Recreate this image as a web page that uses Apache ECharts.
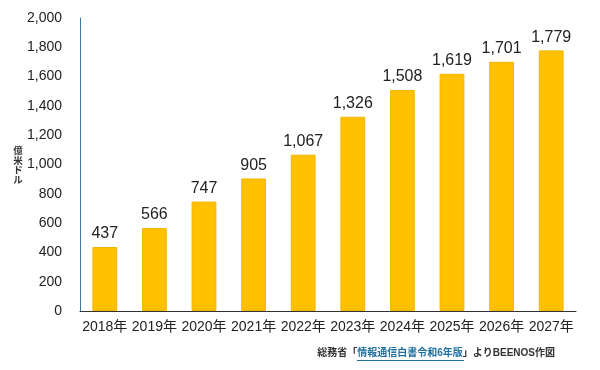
<!DOCTYPE html>
<html><head><meta charset="utf-8">
<script src="https://cdn.jsdelivr.net/npm/echarts@6/dist/echarts.min.js"></script>
<style>html,body{margin:0;padding:0;background:#fff}#c{width:600px;height:370px}</style>
</head><body><div id="c"></div>
<script>
const categories = ['2018年','2019年','2020年','2021年','2022年','2023年','2024年','2025年','2026年','2027年'];
const values = [437, 566, 747, 905, 1067, 1326, 1508, 1619, 1701, 1779];
const yTicks = [0, 200, 400, 600, 800, 1000, 1200, 1400, 1600, 1800, 2000];
const unitLabel = '億米ドル';
const sourceText = ['総務省「', '情報通信白書令和6年版', '」よりBEENOS作図'];

const fmt = v => Number(v).toLocaleString('en-US');
const chart = echarts.init(document.getElementById('c'), null, {renderer:'canvas'});
const FONT = '"Liberation Sans", Arial, "Noto Sans CJK JP", sans-serif';
chart.setOption({
  animation: false,
  backgroundColor: '#fff',
  grid: {left: 80, right: 24, top: 18, bottom: 59},
  xAxis: {
    type: 'category', data: categories,
    axisLine: {lineStyle: {color: '#333', width: 1}},
    axisTick: {show: false},
    axisLabel: {color: '#222', fontSize: 14, fontFamily: FONT, margin: 9, interval: 0}
  },
  yAxis: {
    type: 'value', min: yTicks[0], max: yTicks[yTicks.length-1], interval: yTicks[1]-yTicks[0],
    axisLine: {show: true, lineStyle: {color: '#3a7ca5', width: 1}},
    axisTick: {show: false},
    splitLine: {show: false},
    axisLabel: {color: '#222', fontSize: 14, fontFamily: FONT, margin: 18, formatter: fmt}
  },
  series: [{
    type: 'bar', data: values, barWidth: '50%',
    itemStyle: {color: '#FFC000', borderColor: '#F2B600', borderWidth: 1},
    label: {show: true, position: 'top', distance: 5, color: '#222', fontSize: 16, fontFamily: FONT, formatter: p => fmt(p.value)}
  }],
  graphic: [{
    type: 'text', x: 18, y: 165,
    style: {
      text: unitLabel.split('').join('\n'),
      fontSize: 9.5, lineHeight: 9.5, fontWeight: 'bold', fontFamily: '"Noto Sans CJK JP", sans-serif', fill: '#333',
      align: 'center', verticalAlign: 'middle'
    }
  }, {
    type: 'text', right: 45, top: 348,
    style: {
      text: '{a|' + sourceText[0] + '}{b|' + sourceText[1] + '}{a|' + sourceText[2] + '}',
      font: '10px ' + FONT,
      rich: {
        a: {fontSize: 10, fontFamily: FONT, fill: '#333', fontWeight: 'bold'},
        b: {fontSize: 10, fontFamily: FONT, fill: '#1f6f9f', fontWeight: 'bold'}
      }
    }
  }, {
    type: 'line', shape: {x1: 357, y1: 360.5, x2: 464, y2: 360.5},
    style: {stroke: '#1f6f9f', lineWidth: 1}
  }]
});
</script></body></html>
